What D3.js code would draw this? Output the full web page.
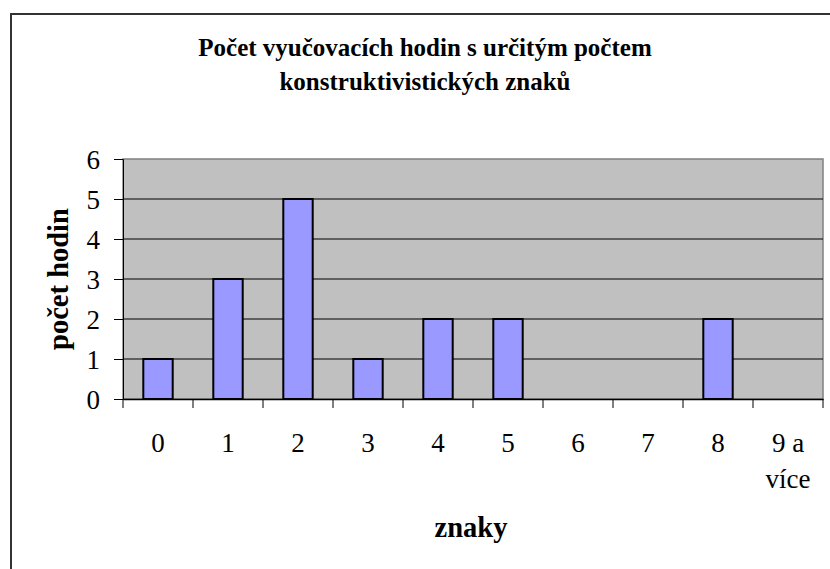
<!DOCTYPE html>
<html><head><meta charset="utf-8">
<script src="https://cdn.jsdelivr.net/npm/d3@7"></script>
<style>body{margin:0;background:#fff}svg{display:block}</style>
</head><body>
<svg id="c" width="830" height="569"></svg>
<script>
const categories = ["0","1","2","3","4","5","6","7","8","9 a více"];
const values = [1,3,5,1,2,2,0,0,2,0];
const yTicks = [0,1,2,3,4,5,6];
const titleLines = ["Počet vyučovacích hodin s určitým počtem","konstruktivistických znaků"];
const yTitle = "počet hodin";
const xTitle = "znaky";
const FF = "'Liberation Serif', 'Times New Roman', Times, serif";

const svg = d3.select("#c");
svg.append("rect").attr("x",11).attr("y",14).attr("width",840).attr("height",580)
  .attr("fill","#fff").attr("stroke","#333").attr("stroke-width",2);

const L=123,R=823,T=159,B=399;
const x = d3.scaleBand().domain(categories).range([L,R]).padding(0);
const y = d3.scaleLinear().domain([0,6]).range([B,T]);

svg.append("rect").attr("x",L).attr("y",T).attr("width",R-L).attr("height",B-T)
  .attr("fill","#C0C0C0").attr("stroke","#808080").attr("stroke-width",1.5);

svg.append("g").selectAll("line").data(yTicks.filter(d=>d>0&&d<6)).join("line")
  .attr("x1",L).attr("x2",R).attr("y1",d=>y(d)).attr("y2",d=>y(d))
  .attr("stroke","#000").attr("stroke-width",1);

const bw = x.bandwidth()*0.42;
svg.append("g").selectAll("rect").data(values.map((v,i)=>({c:categories[i],v}))).join("rect")
  .filter(d=>d.v>0)
  .attr("x",d=>x(d.c)+x.bandwidth()/2-bw/2).attr("width",bw)
  .attr("y",d=>y(d.v)).attr("height",d=>y(0)-y(d.v))
  .attr("fill","#9999FF").attr("stroke","#000").attr("stroke-width",2);

// y axis
const ya = svg.append("g").attr("transform",`translate(${L},0)`)
  .call(d3.axisLeft(y).tickValues(yTicks).tickSize(9).tickPadding(14).tickFormat(d3.format("d")));
ya.attr("font-family",null);
ya.select(".domain").attr("stroke","#000").attr("stroke-width",1);
ya.selectAll(".tick line").attr("stroke","#000");
ya.selectAll("text").style("font-size","27px").attr("fill","#000").style("font-family",FF).attr("dy","0.34em");

// x axis
const xa = svg.append("g").attr("transform",`translate(0,${B})`)
  .call(d3.axisBottom(x).tickSize(0).tickFormat(""));
xa.select(".domain").attr("stroke","#000").attr("stroke-width",1.5);
const tickPos = categories.map(c=>x(c)).concat([R]);
xa.selectAll("line.tk").data(tickPos).join("line").attr("class","tk")
  .attr("x1",d=>d).attr("x2",d=>d).attr("y1",0).attr("y2",9).attr("stroke","#000");
const lbl = svg.append("g").selectAll("text").data(categories).join("text")
  .attr("x",d=>x(d)+x.bandwidth()/2).attr("y",452).attr("text-anchor","middle")
  .style("font-size","27px").style("font-family",FF).attr("fill","#000");
lbl.each(function(d){
  const k = d.indexOf(" a ");
  const parts = k>=0 ? [d.slice(0,k+2), d.slice(k+3)] : [d];
  const t = d3.select(this);
  parts.forEach((p,i)=>t.append("tspan").attr("x",x(d)+x.bandwidth()/2).attr("dy",i?36:0).text(p));
});

// titles
titleLines.forEach((s,i)=>svg.append("text").attr("x",425).attr("y",56+i*34)
  .attr("text-anchor","middle").style("font-size","25px").style("font-weight","bold").style("font-family",FF).text(s));
svg.append("text").attr("transform",`translate(68,${(T+B)/2}) rotate(-90)`)
  .attr("text-anchor","middle").style("font-size","28.5px").style("font-weight","bold").style("font-family",FF).text(yTitle);
svg.append("text").attr("x",(L+R)/2-2).attr("y",537).attr("text-anchor","middle")
  .style("font-size","28.5px").style("font-weight","bold").style("font-family",FF).text(xTitle);
</script>
</body></html>
